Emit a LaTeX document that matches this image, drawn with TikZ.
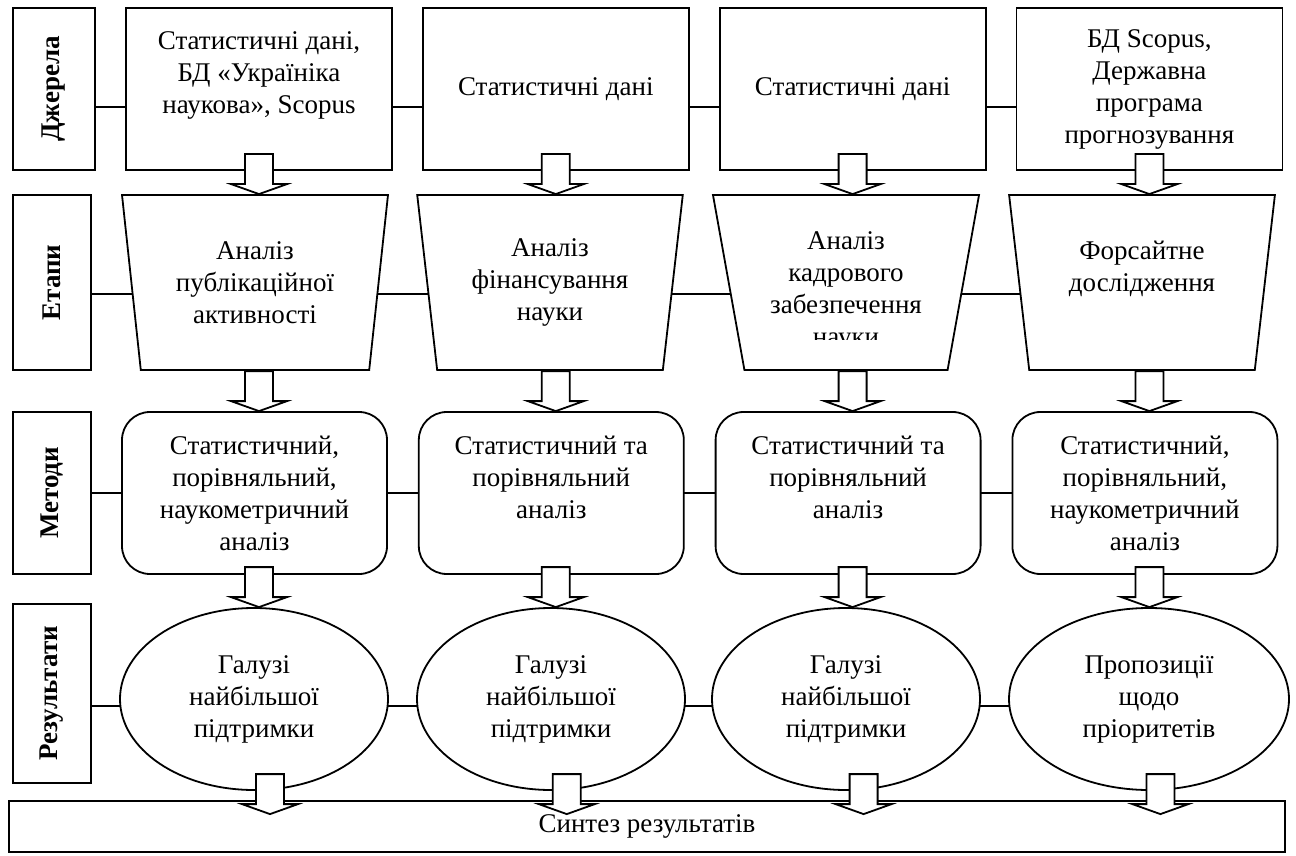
\documentclass[tikz,border=0pt]{standalone}
\usepackage{fontspec}
\setmainfont{Liberation Serif}
\usepackage{graphicx}
\usetikzlibrary{positioning,calc,shapes.geometric,backgrounds}

\begin{document}
\begin{tikzpicture}[
    x=1pt, y=1pt,
    every node/.style={font=\fontsize{27}{32}\selectfont, align=center, inner sep=2pt},
    lab/.style={draw, line width=1.8pt, fill=white, font=\fontsize{27}{32}\selectfont\bfseries},
    src/.style={draw, line width=1.8pt, fill=white, minimum width=266pt, minimum height=162pt},
    stage/.style={draw, line width=1.8pt, fill=white, trapezium, trapezium left angle=98.8, trapezium right angle=98.8, trapezium stretches=true, minimum width=266pt, minimum height=175pt},
    meth/.style={draw, line width=1.8pt, fill=white, rounded corners=28pt, minimum width=265pt, minimum height=162pt},
    res/.style={draw, line width=1.8pt, fill=white, ellipse, minimum width=268pt, minimum height=182pt},
    link/.style={line width=1.8pt},
    blk/.style={draw, fill=white, line width=1.8pt, to path={(\tikztotarget) -- ++(28,10) -- ++(-14,0) -- ++(0,30) -- ++(-28,0) -- ++(0,-30) -- ++(-14,0) -- cycle}}
]
    \useasboundingbox (0,0) rectangle (1296,-856);

    % row lines
    \coordinate (r1) at (0,-107);
    \coordinate (r2) at (0,-294);
    \coordinate (r3) at (0,-493);
    \coordinate (r4) at (0,-706);

    % labels on the left
    \node[lab, minimum width=82pt, minimum height=162pt] (lab1) at (54,-89) {\rotatebox{90}{Джерела}};
    \node[lab, minimum width=78pt, minimum height=175pt] (lab2) at (52,-282.5) {\rotatebox{90}{Етапи}};
    \node[lab, minimum width=78pt, minimum height=162pt] (lab3) at (52,-493) {\rotatebox{90}{Методи}};
    \node[lab, minimum width=78pt, minimum height=179pt] (lab4) at (52,-693.5) {\rotatebox{90}{Результати}};

    % sources
    \node[src] (src1) at (259,-89) {Статистичні дані,\\БД «Україніка\\наукова», Scopus\\\mbox{}};
    \node[src, right=29pt of src1] (src2) {Статистичні дані};
    \node[src, right=29pt of src2] (src3) {Статистичні дані};
    \node[src, right=29pt of src3] (src4) {БД Scopus,\\Державна\\програма\\прогнозування};

    % stages
    \node[stage] (stg1) at (255,-282.5) {Аналіз\\публікаційної\\активності};
    \node[stage] (stg2) at (550,-282.5) {Аналіз\\фінансування\\науки};
    \node[stage] (stg3) at (846,-282.5) {};
    \begin{scope}
        \clip ($(stg3.north)+(-120,0)$) rectangle ($(stg3.north)+(120,-145)$);
        \node (stg3txt) at ($(stg3.center)+(0,-9)$) {Аналіз\\кадрового\\забезпечення\\науки};
    \end{scope}
    \node[stage] (stg4) at (1142,-282.5) {Форсайтне\\дослідження\\\mbox{}};

    % methods
    \node[meth] (meth1) at (254.5,-493) {Статистичний,\\порівняльний,\\наукометричний\\аналіз};
    \node[meth, right=30pt of meth1] (meth2) {Статистичний та\\порівняльний\\аналіз\\\mbox{}};
    \node[meth, right=30pt of meth2] (meth3) {Статистичний та\\порівняльний\\аналіз\\\mbox{}};
    \node[meth, right=30pt of meth3] (meth4) {Статистичний,\\порівняльний,\\наукометричний\\аналіз};

    % results
    \node[res] (res1) at (254,-699) {Галузі\\найбільшої\\підтримки};
    \node[res] (res2) at (551,-699) {Галузі\\найбільшої\\підтримки};
    \node[res] (res3) at (846,-699) {Галузі\\найбільшої\\підтримки};
    \node[res, minimum width=280pt] (res4) at (1149,-699) {Пропозиції\\щодо\\пріоритетів};

    \node[draw, line width=1.8pt, fill=white, minimum width=1276pt, minimum height=51pt] (fin) at (647,-826.5) {Синтез результатів};

    % connectors behind the nodes
    \begin{scope}[on background layer]
        \foreach \r/\n in {1/src, 2/stg, 3/meth, 4/res}{
            \draw[link] (lab\r.east |- r\r) -- (\n1.center |- r\r);
            \foreach \a/\b in {1/2, 2/3, 3/4}
                \draw[link] (\n\a.center |- r\r) -- (\n\b.center |- r\r);
        }
    \end{scope}

    % block arrows
    \foreach \i in {1,...,4}{
        \draw[blk] (src\i) to (src\i |- stg\i.north);
        \draw[blk] (stg\i) to (src\i |- meth\i.north);
        \draw[blk] (meth\i) to (src\i |- res\i.north);
        \draw[blk] (res\i) to ($(src\i |- fin.north)+(11,-14)$);
    }
\end{tikzpicture}
\end{document}
